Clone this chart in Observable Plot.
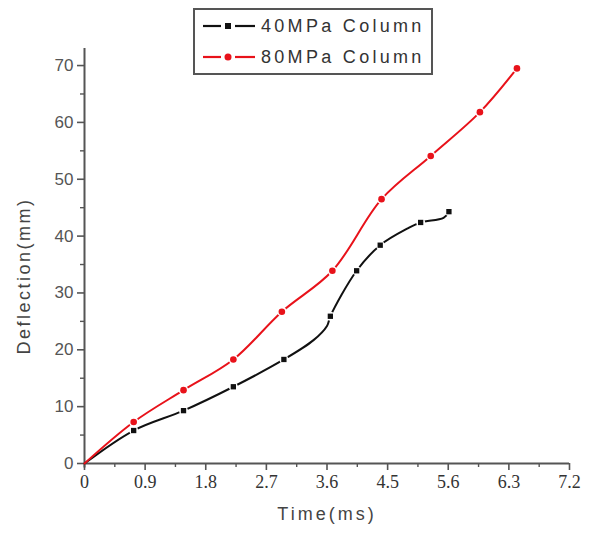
<!DOCTYPE html>
<html><head><meta charset="utf-8">
<script src="https://cdn.jsdelivr.net/npm/d3@7"></script>
<script src="https://cdn.jsdelivr.net/npm/@observablehq/plot@0.6"></script>
<style>
body{margin:0;background:#fff;}
#wrap{position:relative;width:591px;height:541px;overflow:hidden;}
#legend{position:absolute;left:193px;top:8px;}
</style></head><body><div id="wrap"></div>
<script>
// 40MPa column (line points; mark = symbol drawn)
const time40 = [0, 0.73, 1.47, 2.21, 2.96, 3.40, 3.60, 3.65, 4.04, 4.39, 4.79, 4.99, 5.33, 5.41];
const defl40 = [0, 5.8, 9.3, 13.5, 18.3, 21.7, 24.2, 25.9, 33.9, 38.4, 41.3, 42.4, 43.2, 44.3];
const mark40 = [0, 1, 1, 1, 1, 0, 0, 1, 1, 1, 0, 1, 0, 1];
// 80MPa column
const time80 = [0, 0.73, 1.47, 2.21, 2.93, 3.68, 4.41, 5.14, 5.87, 6.42];
const defl80 = [0, 7.3, 12.9, 18.3, 26.7, 33.9, 46.5, 54.1, 61.8, 69.5];
const mark80 = [0, 1, 1, 1, 1, 1, 1, 1, 1, 1];

const seriesNames = ["40MPa Column", "80MPa Column"];
const seriesColors = ["#111111", "#e8121a"];

const xTicks = [0, 0.9, 1.8, 2.7, 3.6, 4.5, 5.4, 6.3, 7.2];
const xTickLabels = ["0", "0.9", "1.8", "2.7", "3.6", "4.5", "5.6", "6.3", "7.2"];
const xMinor = [0.45, 1.35, 2.25, 3.15, 4.05, 4.95, 5.85, 6.75];
const yTicks = [0, 10, 20, 30, 40, 50, 60, 70];
const yMinor = [5, 15, 25, 35, 45, 55, 65];

const d40 = time40.map((t, i) => ({t, d: defl40[i], m: mark40[i]}));
const d80 = time80.map((t, i) => ({t, d: defl80[i], m: mark80[i]}));
const m40 = d40.filter(p => p.m);
const m80 = d80.filter(p => p.m);

const chart = Plot.plot({
  width: 591, height: 541,
  marginLeft: 84, marginRight: 22, marginTop: 48, marginBottom: 78,
  x: {domain: [0, 7.2]},
  y: {domain: [0, 73]},
  style: {background: "#fff", overflow: "visible"},
  marks: [
    Plot.axisY({ticks: yTicks, tickSize: 7, tickPadding: 4, stroke: "#555", strokeWidth: 1.6, fill: "#555",
      fontSize: 17, fontFamily: "Liberation Sans, Arial, sans-serif", tickFormat: d => String(d), label: null}),
    Plot.axisY({ticks: yMinor, tickSize: 4, stroke: "#555", strokeWidth: 1.4, tickFormat: () => "", label: null}),
    Plot.axisX({ticks: xTicks, tickSize: 7, tickPadding: 5, stroke: "#555", strokeWidth: 1.6, fill: "#333",
      fontSize: 18, fontFamily: "Liberation Serif, Times New Roman, serif",
      tickFormat: d => xTickLabels[xTicks.indexOf(d)], label: null}),
    Plot.axisX({ticks: xMinor, tickSize: 4, stroke: "#555", strokeWidth: 1.4, tickFormat: () => "", label: null}),
    Plot.ruleX([0], {y1: -0.8, y2: 73, stroke: "#555", strokeWidth: 2}),
    Plot.ruleY([0], {x1: 0, x2: 7.2, stroke: "#555", strokeWidth: 2}),
    // 40MPa
    Plot.line(d40, {x: "t", y: "d", stroke: seriesColors[0], strokeWidth: 2, curve: "catmull-rom"}),
    Plot.dot(m40, {x: "t", y: "d", r: 4.5, fill: "#fff", stroke: null}),
    Plot.dot(m40, {x: "t", y: "d", r: 3, symbol: "square", fill: seriesColors[0], stroke: null}),
    // 80MPa
    Plot.line(d80, {x: "t", y: "d", stroke: seriesColors[1], strokeWidth: 2, curve: "catmull-rom"}),
    Plot.dot(m80, {x: "t", y: "d", r: 4.8, fill: "#fff", stroke: null}),
    Plot.dot(m80, {x: "t", y: "d", r: 3.3, fill: seriesColors[1], stroke: null}),
    Plot.text(["Time(ms)"], {frameAnchor: "bottom", dy: 56, fontSize: 18, fill: "#444",
      fontFamily: "Liberation Sans, Arial, sans-serif"}),
    Plot.text(["Deflection(mm)"], {frameAnchor: "left", textAnchor: "middle", rotate: -90, dx: -60, dy: 20, fontSize: 18, fill: "#444",
      fontFamily: "Liberation Sans, Arial, sans-serif"})
  ]
});
d3.select(chart).selectAll("text").filter(function(){ return this.textContent === "Time(ms)"; })
  .attr("letter-spacing", "3px");
d3.select(chart).selectAll("text").filter(function(){ return this.textContent === "Deflection(mm)"; })
  .attr("letter-spacing", "2.5px");
d3.select(chart).selectAll("text").filter(function(){ return /^\d0?$/.test(this.textContent) && this.textContent.length <= 2 && this.getAttribute("font-family") === null; });

const wrap = document.getElementById("wrap");
wrap.appendChild(chart);

// Legend
const lg = d3.select(wrap).append("svg").attr("id", "legend").attr("width", 241).attr("height", 68);
lg.append("rect").attr("x", 1).attr("y", 1).attr("width", 238).attr("height", 65)
  .attr("fill", "#fff").attr("stroke", "#555").attr("stroke-width", 2);
seriesNames.forEach((name, i) => {
  const y = 18 + i * 31;
  const g = lg.append("g").attr("transform", `translate(0,${y})`);
  g.append("line").attr("x1", 10).attr("x2", 28).attr("y1", 0).attr("y2", 0).attr("stroke", seriesColors[i]).attr("stroke-width", 2.2);
  g.append("line").attr("x1", 42).attr("x2", 62).attr("y1", 0).attr("y2", 0).attr("stroke", seriesColors[i]).attr("stroke-width", 2.2);
  if (i === 0) g.append("rect").attr("x", 32).attr("y", -3).attr("width", 6).attr("height", 6).attr("fill", seriesColors[i]);
  else g.append("circle").attr("cx", 35).attr("cy", 0).attr("r", 3.5).attr("fill", seriesColors[i]);
  g.append("text").attr("x", 68).attr("y", 0).attr("dy", "0.36em").attr("font-size", 18)
    .attr("font-family", "Liberation Sans, Arial, sans-serif").attr("fill", "#333")
    .attr("letter-spacing", "3.3px").text(name);
});
</script>
</body></html>
